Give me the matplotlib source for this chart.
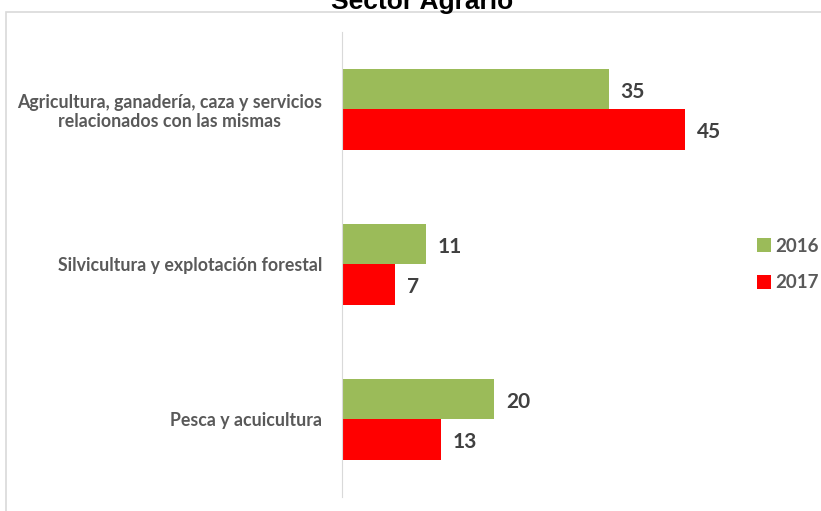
import matplotlib.pyplot as plt
from matplotlib.patches import Rectangle
import numpy as np

categorias = ["Agricultura, ganadería, caza y servicios\nrelacionados con las mismas",
              "Silvicultura y explotación forestal",
              "Pesca y acuicultura"]
valores_2016 = [35, 11, 20]
valores_2017 = [45, 7, 13]
anios = ["2016", "2017"]
colores = ["#9bbb59", "#ff0000"]
gris = "#595959"

fig = plt.figure(figsize=(8.21, 5.11), dpi=100)
ax = fig.add_axes([0.4166, 0.0274, 0.464, 0.91])

y = np.arange(len(categorias))
h = 0.26
b1 = ax.barh(y - h / 2, valores_2016, height=h, color=colores[0], label=anios[0])
b2 = ax.barh(y + h / 2, valores_2017, height=h, color=colores[1], label=anios[1])

for bars in (b1, b2):
    for bar in bars:
        w = bar.get_width()
        ax.annotate(str(int(w)), (w, bar.get_y() + bar.get_height() / 2),
                    xytext=(8.5, -2), textcoords="offset points", ha="left", va="center",
                    fontsize=15, fontweight="bold", color="#404040", family="Lato")

ax.set_ylim(2.5, -0.5)
ax.set_xlim(0, 50)
ax.set_yticks(y, labels=categorias)
for lab in ax.get_yticklabels():
    lab.set_multialignment("center")
    lab.set_family("Lato")
    lab.set_fontsize(12.8)
    lab.set_fontweight("bold")
    lab.set_color(gris)
    lab.set_linespacing(1.15)
ax.tick_params(axis="y", length=0, pad=14.4)
ax.set_xticks([])
for s in ["top", "right", "bottom"]:
    ax.spines[s].set_visible(False)
ax.spines["left"].set_color("#d9d9d9")

leg = ax.legend(loc="center left", bbox_to_anchor=(1.045, 0.5), frameon=False,
                handlelength=0.75, handleheight=0.75, handletextpad=0.2,
                labelspacing=1.05, prop={"family": "Lato", "weight": "bold", "size": 13.5})
for t in leg.get_texts():
    t.set_color(gris)

# marco del gráfico
fig.patches.append(Rectangle((0.007, -0.1), 1.1, 0.1 + 1 - 12 / 511, transform=fig.transFigure,
                             fill=False, edgecolor="#d9d9d9", linewidth=1.2))

fig.text(0.514, 1 - 9 / 511, "Sector Agrario", ha="center", va="baseline",
         fontsize=19, fontweight="bold", family="Liberation Sans")

fig.savefig("out.png", dpi=100)
